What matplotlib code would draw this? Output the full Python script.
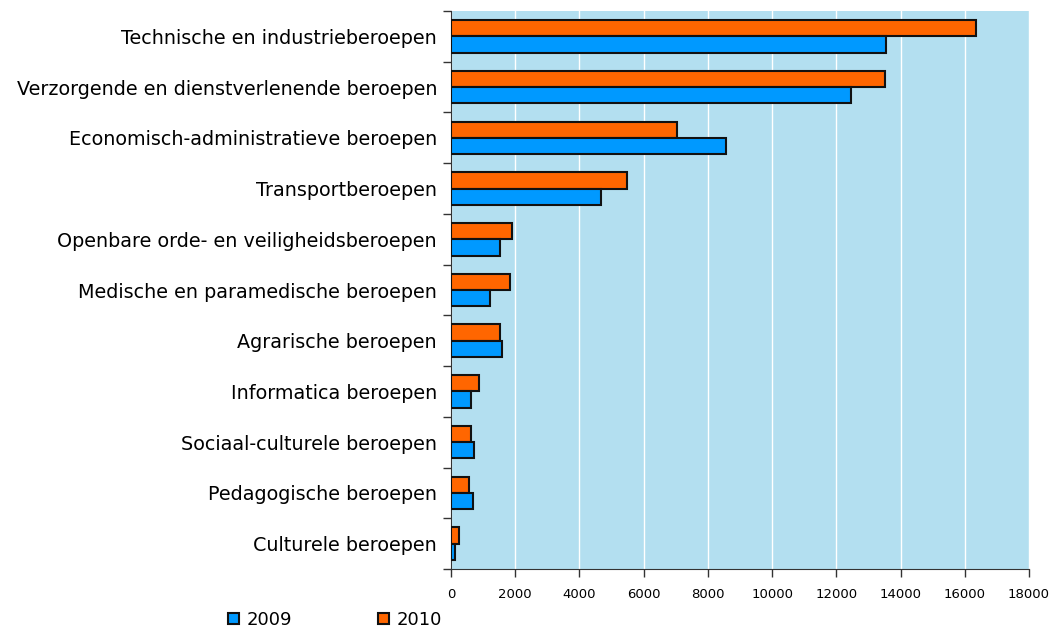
import matplotlib
matplotlib.use("Agg")
import matplotlib.pyplot as plt
import numpy as np
from matplotlib.ticker import FixedLocator

categories = [
    "Technische en industrieberoepen",
    "Verzorgende en dienstverlenende beroepen",
    "Economisch-administratieve beroepen",
    "Transportberoepen",
    "Openbare orde- en veiligheidsberoepen",
    "Medische en paramedische beroepen",
    "Agrarische beroepen",
    "Informatica beroepen",
    "Sociaal-culturele beroepen",
    "Pedagogische beroepen",
    "Culturele beroepen",
]
values_2009 = [13550, 12470, 8550, 4670, 1530, 1200, 1580, 620, 730, 670, 130]
values_2010 = [16350, 13500, 7050, 5480, 1900, 1850, 1530, 880, 620, 560, 260]
xticks = [0, 2000, 4000, 6000, 8000, 10000, 12000, 14000, 16000, 18000]

fig = plt.figure(figsize=(10.53, 6.29), dpi=100)
ax = fig.add_axes([451/1053, 60/629, 578/1053, 558/629])
ax.set_facecolor("#B3DFF0")

y = np.arange(len(categories))
h = 0.32
ax.barh(y - h/2, values_2010, height=h, color="#FF6600", edgecolor="#111111",
        linewidth=1.5, label="2010", zorder=3)
ax.barh(y + h/2, values_2009, height=h, color="#0099FF", edgecolor="#111111",
        linewidth=1.5, label="2009", zorder=3)

ax.set_xlim(0, 18000)
ax.set_ylim(len(categories) - 0.5, -0.5)
ax.set_xticks(xticks)
ax.set_xticklabels([str(v) for v in xticks], fontsize=9.5)
ax.xaxis.grid(True, color="white", linewidth=1, zorder=0)
ax.set_axisbelow(True)

ax.set_yticks(y)
ax.set_yticklabels(categories, fontsize=13.8)
ax.tick_params(axis="y", which="major", length=0, pad=10)
ax.yaxis.set_minor_locator(FixedLocator(np.arange(-0.5, len(categories), 1.0)))
ax.tick_params(axis="y", which="minor", length=6, width=1, color="#333333", direction="out")
ax.tick_params(axis="x", which="major", length=6, width=1, color="#333333", direction="out", pad=8)

for s in ["top", "right"]:
    ax.spines[s].set_visible(False)
ax.spines["left"].set_color("#333333")
ax.spines["bottom"].set_color("#333333")

handles, labels = ax.get_legend_handles_labels()
leg = fig.legend(handles[::-1], labels[::-1], loc="center left",
                 bbox_to_anchor=(212/1053, 1 - 620/629), ncol=2, frameon=False,
                 fontsize=13, handlelength=0.6, handleheight=0.6,
                 columnspacing=4.8, handletextpad=0.4)

fig.savefig("out.png", dpi=100)
